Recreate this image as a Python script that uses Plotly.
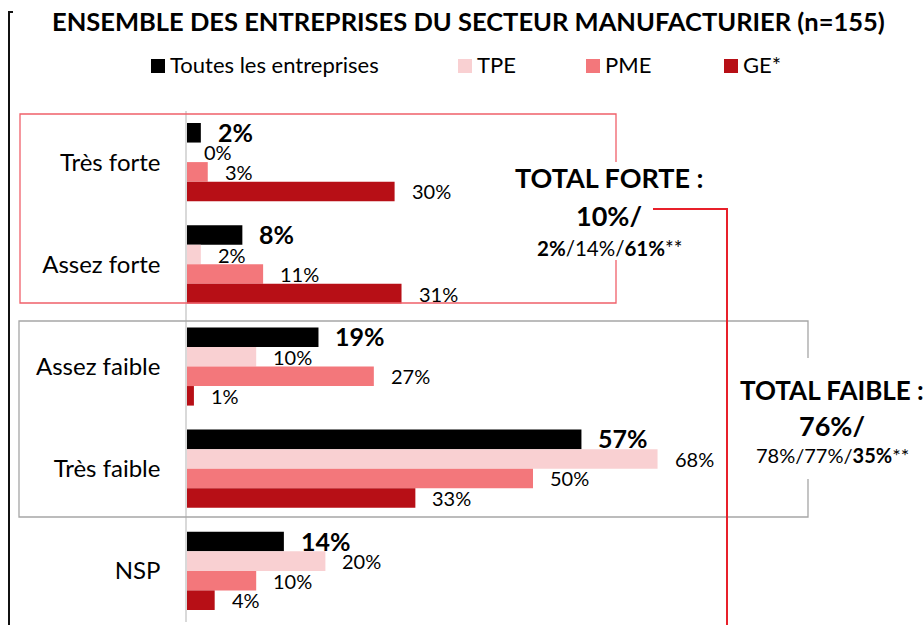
import plotly.graph_objects as go

# Categories (top to bottom) and series values, in %
categories = ["Très forte", "Assez forte", "Assez faible", "Très faible", "NSP"]
series_names = ["Toutes les entreprises", "TPE", "PME", "GE*"]
toutes = [2, 8, 19, 57, 14]
tpe = [0, 2, 10, 68, 20]
pme = [3, 11, 27, 50, 10]
ge = [30, 31, 1, 33, 4]

title_text = "ENSEMBLE DES ENTREPRISES DU SECTEUR MANUFACTURIER (n=155)"
total_forte = ["TOTAL FORTE :", "10%/", "<b>2%</b>/14%/<b>61%</b>**"]
total_faible = ["TOTAL FAIBLE :", "76%/", "78%/77%/<b>35%</b>**"]

colors = ["#000000", "#F9D0D2", "#F3777B", "#B70F16"]
FONT = "Lato, Roboto, Arial, sans-serif"

W, H = 923, 625
L, R, T, B = 187, 0, 111, 3
PW, PH = W - L - R, H - T - B
PX_PER_PCT = 6.92


def px(x):
    return (x - L) / PW


def py(y):
    return 1 - (y - T) / PH


fig = go.Figure()
all_values = [toutes, tpe, pme, ge]
for name, vals, col in zip(series_names, all_values, colors):
    fig.add_trace(go.Bar(
        y=categories, x=vals, name=name, orientation="h",
        marker=dict(color=col, line=dict(width=0)),
        showlegend=False, hoverinfo="x+name",
    ))

# value labels placed right of each bar
bar_px = PH / len(categories) * (1 - 0.235) / 4
annotations = []
for i, vals in enumerate(all_values):
    for cat, v in zip(categories, vals):
        bold = i == 0
        annotations.append(dict(
            x=v, y=cat, xref="x", yref="y", text=f"<b>{v}%</b>" if bold else f"{v}%",
            showarrow=False, xanchor="left", yanchor="middle",
            xshift=15, yshift=-(i - 1.5) * bar_px + (1 if bold else 0),
            font=dict(family=FONT, size=25 if bold else 20, color="#000000"),
        ))

# title
annotations.append(dict(
    x=px(468), y=py(21), xref="paper", yref="paper", text=f"<b>{title_text}</b>",
    showarrow=False, xanchor="center", yanchor="middle",
    font=dict(family=FONT, size=25.5, color="#000000"),
))

# legend: swatch + label
legend_sq = [151, 458, 586, 724]
shapes = []
for name, col, x0 in zip(series_names, colors, legend_sq):
    shapes.append(dict(type="rect", xref="paper", yref="paper",
                       x0=px(x0), x1=px(x0 + 14), y0=py(59), y1=py(73),
                       fillcolor=col, line=dict(width=0)))
    annotations.append(dict(
        x=px(x0 + 17), y=py(65), xref="paper", yref="paper", text=name,
        showarrow=False, xanchor="left", yanchor="middle",
        font=dict(family=FONT, size=22, color="#000000"),
    ))

# totals
for lines, cx, ys, sizes in [
    (total_forte, 609, [177, 215, 248], [27, 27, 20.5]),
    (total_faible, 832, [390, 425, 455], [26, 27, 20]),
]:
    for txt, yy, sz, b in zip(lines, ys, sizes, [True, True, False]):
        annotations.append(dict(
            x=px(cx), y=py(yy), xref="paper", yref="paper",
            text=f"<b>{txt}</b>" if b else txt,
            showarrow=False, xanchor="center", yanchor="middle",
            font=dict(family=FONT, size=sz, color="#000000"),
        ))


def path(points):
    d = "M " + " L ".join(f"{px(x)},{py(y)}" for x, y in points)
    return d


# group frames (open on the right where the totals sit)
shapes.append(dict(type="path", xref="paper", yref="paper",
                   path=path([(616, 162), (616, 114), (20, 114), (20, 303), (616, 303), (616, 260)]),
                   line=dict(color="#F0606A", width=1.3)))
shapes.append(dict(type="path", xref="paper", yref="paper",
                   path=path([(808, 358), (808, 321), (19, 321), (19, 517), (808, 517), (808, 479)]),
                   line=dict(color="#A6A6A6", width=1.3)))
# connector from total forte
shapes.append(dict(type="path", xref="paper", yref="paper",
                   path=path([(653, 209), (727, 209), (727, 626)]),
                   line=dict(color="#E8202A", width=2)))
# outer bracket on the left
shapes.append(dict(type="path", xref="paper", yref="paper",
                   path=path([(13, 12), (9, 12), (9, 626)]),
                   line=dict(color="#111111", width=2)))

fig.update_layout(
    width=W, height=H,
    margin=dict(l=L, r=R, t=T, b=B, pad=0),
    barmode="group", bargap=0.235, bargroupgap=0,
    plot_bgcolor="white", paper_bgcolor="white",
    font=dict(family=FONT, color="#000000"),
    xaxis=dict(range=[0, PW / PX_PER_PCT], visible=False, fixedrange=True),
    yaxis=dict(autorange="reversed", showline=True, linecolor="#D9D9D9", linewidth=1.5,
               ticks="", showgrid=False, zeroline=False, ticklabelstandoff=20,
               tickfont=dict(family=FONT, size=24, color="#000000"), fixedrange=True),
    annotations=annotations, shapes=shapes, showlegend=False,
)

fig.write_html("out.html")
